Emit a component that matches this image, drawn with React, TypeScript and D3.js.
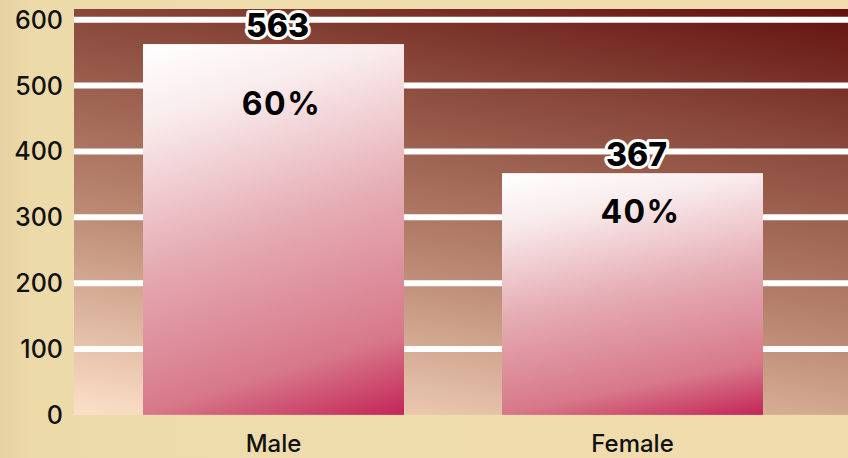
import React from "react";
import * as d3 from "d3";

const categories = ["Male", "Female"];
const counts = [563, 367];
const percents = ["60%", "40%"];
const yTicks = [0, 100, 200, 300, 400, 500, 600];

const W = 848;
const H = 458;
const FONT = "Inter, 'Open Sans', sans-serif";

export default function App() {
  const plotLeft = 74;
  const plotRight = 848;
  const plotTop = 9;
  const y = d3.scaleLinear().domain([0, 600]).range([414.85, 19.7]);
  const x = d3
    .scaleBand<string>()
    .domain(categories)
    .range([94, 812])
    .paddingInner(0.273)
    .paddingOuter(0.1365);
  const bottom = y(0);

  return (
    <svg
      width={W}
      height={H}
      style={{ position: "fixed", left: 0, top: 0, display: "block" }}
    >
      <defs>
        <linearGradient id="paper" x1="0" y1="0" x2="1" y2="0">
          <stop offset="0" stopColor="#e6d2a2" />
          <stop offset="0.04" stopColor="#eddaa9" />
          <stop offset="0.5" stopColor="#f0ddae" />
          <stop offset="1" stopColor="#efdbab" />
        </linearGradient>
        <linearGradient
          id="plotbg"
          gradientUnits="userSpaceOnUse"
          x1={74}
          y1={415}
          x2={166}
          y2={-110}
        >
          <stop offset="0" stopColor="#fde0c8" />
          <stop offset="0.4" stopColor="#b98670" />
          <stop offset="0.75" stopColor="#884739" />
          <stop offset="1" stopColor="#63110f" />
        </linearGradient>
        <linearGradient id="bar" x1="0" y1="0" x2="0.255" y2="1.162">
          <stop offset="0" stopColor="#ffffff" />
          <stop offset="0.18" stopColor="#f9ebec" />
          <stop offset="0.5" stopColor="#e5abb3" />
          <stop offset="0.82" stopColor="#d7788a" />
          <stop offset="1" stopColor="#c42558" />
        </linearGradient>
      </defs>

      <rect x={0} y={0} width={W} height={H} fill="url(#paper)" />
      <rect
        x={plotLeft}
        y={plotTop}
        width={plotRight - plotLeft}
        height={bottom - plotTop}
        fill="url(#plotbg)"
      />

      {yTicks
        .filter((t) => t > 0)
        .map((t) => (
          <line
            key={"g" + t}
            x1={plotLeft}
            x2={plotRight}
            y1={y(t)}
            y2={y(t)}
            stroke="#ffffff"
            strokeWidth={6}
          />
        ))}

      {yTicks.map((t) => (
        <text
          key={"t" + t}
          x={63}
          y={y(t)}
          textAnchor="end"
          dominantBaseline="central"
          fontFamily={FONT}
          fontWeight={500}
          fontSize={25}
          fill="#111"
        >
          {t}
        </text>
      ))}

      {categories.map((c, i) => {
        const bx = x(c) as number;
        const bw = x.bandwidth();
        const top = y(counts[i]);
        const cx = bx + bw / 2;
        return (
          <g key={c}>
            <rect
              x={bx}
              y={top}
              width={bw}
              height={bottom - top}
              fill="url(#bar)"
            />
            <text
              x={cx + 4}
              y={top - 7}
              textAnchor="middle"
              fontFamily={FONT}
              fontWeight={800}
              fontSize={32}
              fill="#000"
              stroke="#ffffff"
              strokeWidth={6}
              strokeLinejoin="round"
              style={{ paintOrder: "stroke" }}
            >
              {counts[i]}
            </text>
            <text
              x={cx + 8}
              y={y(counts[i] * 0.84)}
              textAnchor="middle"
              dominantBaseline="central"
              fontFamily={FONT}
              fontWeight={700}
              fontSize={32}
              letterSpacing={1.5}
              fill="#000"
            >
              {percents[i]}
            </text>
            <text
              x={cx}
              y={452}
              textAnchor="middle"
              fontFamily={FONT}
              fontWeight={500}
              fontSize={24}
              fill="#111"
            >
              {c}
            </text>
          </g>
        );
      })}
    </svg>
  );
}
